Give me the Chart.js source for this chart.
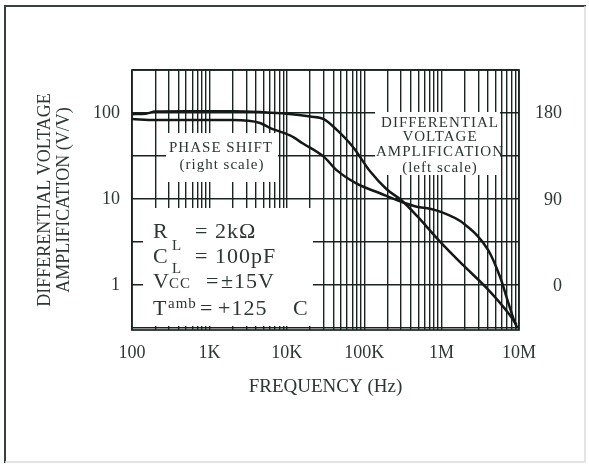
<!DOCTYPE html>
<html><head><meta charset="utf-8">
<style>html,body{margin:0;padding:0;background:#fff;overflow:hidden}canvas{display:block}</style>
<script src="https://cdn.jsdelivr.net/npm/chart.js@4.4.1/dist/chart.umd.min.js"></script>
</head><body>
<canvas id="c" width="589" height="464"></canvas>
<script>
// ---- data ----
const gainFreq   = [100,150,200,500,1000,2000,5000,10000,20000,30000,44000,72000,119000,195000,305000,477000,953000,1900000,3830000,7300000,9300000];
const gainValues = [97,98,104,105,105,105,102,98,91,85,64,40,21,13,9.6,6.4,3.2,1.7,0.92,0.47,0.345];
const phaseFreq   = [100,200,2000,4500,6000,11000,16000,30000,44000,80000,160000,305000,477000,708000,953000,1900000,4000000,5700000,7300000,8900000,9600000];
const phaseValues = [174,173,173,170,165,157,149,135,121,107,97,88,83,81,78,66,38,10,-17,-38,-43];
const freqTickLabels = {100:'100',1000:'1K',10000:'10K',100000:'100K',1000000:'1M',10000000:'10M'};
const gainTickLabels = [1,10,100];
const gainGridValues = [Math.pow(10,-0.5),1,Math.pow(10,0.5),10,Math.pow(10,1.5),100,Math.pow(10,2.5)];
const phaseTicks = [0,90,180];
const freqGridValues = [];
for (let d = 100; d < 1e7; d *= 10) for (let m = 1; m < 10; m++) freqGridValues.push(d*m);
freqGridValues.push(1e7);

const FONT = '"Liberation Serif", "Times New Roman", serif';
const TXT = '#2e3632';
const GRID = '#1a231f';

const boxes = [
  {x1:166, y1:133, x2:278, y2:182},
  {x1:375, y1:112, x2:500, y2:175},
  {x1:143, y1:208, x2:313, y2:326}
];

const deco = {
  id:'deco',
  beforeDraw(chart){
    const c = chart.ctx; c.save(); c.fillStyle='#fff'; c.fillRect(0,0,chart.width,chart.height); c.restore();
  },
  beforeDatasetsDraw(chart){
    const c = chart.ctx; c.save(); c.fillStyle='#fff';
    boxes.forEach(b=>c.fillRect(b.x1,b.y1,b.x2-b.x1,b.y2-b.y1));
    c.restore();
  },
  afterDatasetsDraw(chart){
    const c = chart.ctx, a = chart.chartArea;
    c.save();
    c.strokeStyle = GRID; c.lineWidth = 1.7;
    c.strokeRect(a.left, a.top, a.right-a.left, a.bottom-a.top);
    // outer frame
    c.strokeStyle = '#3a3f3c'; c.lineWidth = 2;
    c.beginPath(); c.moveTo(5,463); c.lineTo(5,6); c.lineTo(586,6); c.stroke();
    c.strokeStyle = '#dcdcdc'; c.lineWidth = 1.5;
    c.beginPath(); c.moveTo(585,6); c.lineTo(585,462); c.lineTo(5,462); c.stroke();

    c.fillStyle = TXT;
    c.textBaseline = 'middle'; c.textAlign = 'center';
    try { c.letterSpacing = '1px'; } catch(e) {}
    c.font = '15px ' + FONT;
    c.fillText('PHASE SHIFT', 221, 148);
    c.fillText('(right scale)', 222, 165);
    c.fillText('DIFFERENTIAL', 440, 123);
    c.fillText('VOLTAGE', 440, 137.5);
    c.fillText('AMPLIFICATION', 440, 152);
    c.fillText('(left scale)', 440, 168);
    c.textAlign = 'left'; c.textBaseline = 'alphabetic';
    const big = '22px ' + FONT, small = '15px ' + FONT;
    const put = (t,x,y,f)=>{ c.font=f; c.fillText(t,x,y); };
    put('R',153,238,big); put('L',172,250,small); put('= 2kΩ',195,238,big);
    put('C',153,263,big); put('L',172,273,small); put('= 100pF',195,263,big);
    put('V',153,288,big); put('CC',169,288,small); put('=',206,288,big); put('±15V',221,288,big);
    put('T',153,315,big); put('amb',168,308,small); put('=',200,315,big); put('+125',218,315,big); put('C',293,315,big);
    c.restore();
  }
};

new Chart(document.getElementById('c'), {
  type:'line',
  data:{
    datasets:[
      {label:'Differential voltage amplification', data: gainFreq.map((f,i)=>({x:f,y:gainValues[i]})), yAxisID:'y',
       borderColor:'#141816', borderWidth:2.5, pointRadius:0, cubicInterpolationMode:'monotone', fill:false},
      {label:'Phase shift', data: phaseFreq.map((f,i)=>({x:f,y:phaseValues[i]})), yAxisID:'y2',
       borderColor:'#141816', borderWidth:2.5, pointRadius:0, cubicInterpolationMode:'monotone', fill:false}
    ]
  },
  options:{
    responsive:false, animation:false, devicePixelRatio:1,
    layout:{padding:{left:0,right:27,top:70,bottom:64}},
    plugins:{legend:{display:false}, tooltip:{enabled:false}},
    scales:{
      x:{type:'logarithmic', min:100, max:1e7,
        afterBuildTicks:s=>{ s.ticks = freqGridValues.map(v=>({value:v})); },
        afterFit:s=>{ s.height = 70; },
        grid:{color:GRID, lineWidth:1.4, drawTicks:false},
        border:{display:false},
        ticks:{autoSkip:false, maxRotation:0, minRotation:0, padding:12, color:TXT,
          font:{family:FONT, size:18}, callback:v=>freqTickLabels[v] || ''},
        title:{display:true, text:'FREQUENCY (Hz)', color:TXT, font:{family:FONT, size:19}, padding:{top:0,bottom:2}}
      },
      y:{type:'logarithmic', position:'left', min:Math.pow(10,-0.5), max:Math.pow(10,2.5),
        afterBuildTicks:s=>{ s.ticks = gainGridValues.map(v=>({value:v})); },
        afterFit:s=>{ s.width = 132; },
        grid:{color:GRID, lineWidth:1.4, drawTicks:false},
        border:{display:false},
        ticks:{autoSkip:false, padding:12, color:TXT, font:{family:FONT, size:18},
          callback:v=>{ const t = gainTickLabels.find(t=>Math.abs(t-v)<1e-6); return t!==undefined ? String(t) : ''; }},
        title:{display:true, text:['DIFFERENTIAL VOLTAGE','AMPLIFICATION (V/V)'], color:TXT,
          font:{family:FONT, size:18, lineHeight:1.1}, padding:{top:35,bottom:0}}
      },
      y2:{type:'linear', position:'right', min:-45, max:225,
        afterBuildTicks:s=>{ s.ticks = phaseTicks.map(v=>({value:v})); },
        afterFit:s=>{ s.width = 43; },
        grid:{display:false, drawTicks:false}, border:{display:false},
        ticks:{crossAlign:'far', padding:0, color:TXT, font:{family:FONT, size:18}}
      }
    }
  },
  plugins:[deco]
});
</script>
</body></html>
